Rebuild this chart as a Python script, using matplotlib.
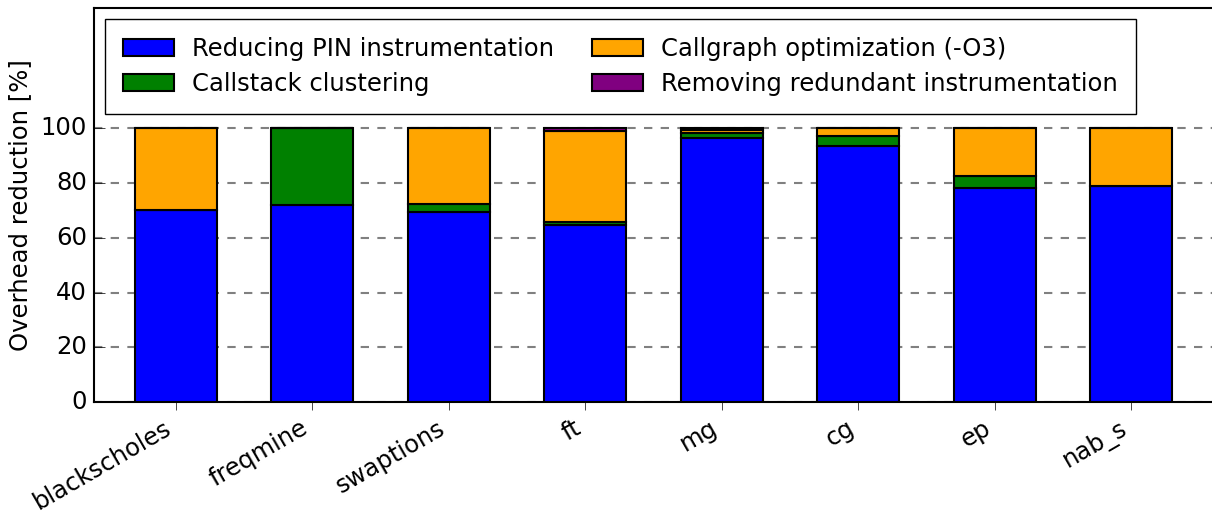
import numpy as np
import matplotlib
matplotlib.use('Agg')
import matplotlib.pyplot as plt

plt.style.use('classic')
plt.rcParams['font.family'] = ['DejaVu Sans']

benchmarks = ['blackscholes', 'freqmine', 'swaptions', 'ft', 'mg', 'cg', 'ep', 'nab_s']

# reduction share per optimisation step, in percent
pin_red = [70.3, 71.9, 69.6, 64.8, 96.6, 93.7, 78.3, 78.8]
callstack = [0.0, 28.1, 2.9, 1.1, 1.7, 3.6, 4.4, 0.0]
callgraph = [29.7, 0.0, 27.5, 33.1, 1.1, 2.7, 17.3, 21.2]
redundant = [0.0, 0.0, 0.0, 1.0, 0.6, 0.0, 0.0, 0.0]

labels = ['Reducing PIN instrumentation', 'Callstack clustering',
          'Callgraph optimization (-O3)', 'Removing redundant instrumentation']
colors = ['blue', 'green', 'orange', 'purple']

fig = plt.figure(figsize=(12.12, 5.13), dpi=100)
fig.patch.set_facecolor('white')
ax = fig.add_axes([0.0776, 0.2164, 0.9234, 0.768])

x = np.arange(len(benchmarks))
w = 0.6
bottom = np.zeros(len(benchmarks))
for vals, lab, col in zip([pin_red, callstack, callgraph, redundant], labels, colors):
    ax.bar(x, vals, w, bottom=bottom, color=col, edgecolor='black',
           linewidth=1.5, label=lab, align='center', zorder=3)
    bottom += np.array(vals)

ax.set_xlim(-0.6, 7.6)
ax.set_ylim(0, 144)
ax.set_yticks([0, 20, 40, 60, 80, 100])
ax.set_xticks(x)
ax.set_xticklabels(benchmarks, rotation=30, ha='right', fontsize=17.5)
ax.tick_params(axis='y', labelsize=17.5, direction='in', length=8, right=False, pad=5)
ax.tick_params(axis='x', direction='out', length=6, top=False)
ax.set_ylabel('Overhead reduction [%]', fontsize=17.5, labelpad=6)

ax.yaxis.grid(True, linestyle=(0, (6, 6)), color='gray', linewidth=1.5, zorder=0)
ax.set_axisbelow(True)
for s in ax.spines.values():
    s.set_linewidth(1.5)

ax.legend(loc='upper left', ncol=2, fontsize=17.5, frameon=True,
          handlelength=2.1, handleheight=0.7, handletextpad=0.75,
          columnspacing=1.55, labelspacing=0.45, borderpad=0.75,
          borderaxespad=0.45)

fig.savefig('out.png', dpi=100, facecolor='white')
